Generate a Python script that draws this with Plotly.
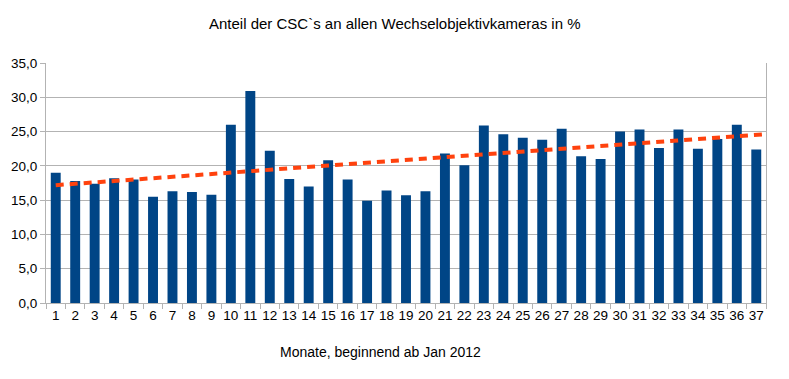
import numpy as np
import plotly.graph_objects as go

months = list(range(1, 38))
share = [19.0, 17.8, 17.4, 18.2, 18.0, 15.5, 16.3, 16.2, 15.8, 26.0,
         30.9, 22.2, 18.1, 17.0, 20.8, 18.0, 14.9, 16.4, 15.7, 16.3,
         21.8, 20.1, 25.9, 24.6, 24.1, 23.8, 25.4, 21.4, 21.0, 25.0,
         25.3, 22.6, 25.3, 22.5, 23.9, 26.0, 22.4]
title = "Anteil der CSC`s an allen Wechselobjektivkameras in %"
xlabel = "Monate, beginnend ab Jan 2012"

# linear trend line (least squares)
slope, intercept = np.polyfit(months, share, 1)
trend_x = [months[0], months[-1] + 0.5]
trend_y = [slope * x + intercept for x in trend_x]

FONT = "Liberation Sans, Arial, sans-serif"
GRID = "#b3b3b3"

fig = go.Figure()
fig.add_trace(go.Bar(x=months, y=share, marker=dict(color="#004586", line=dict(width=0)),
                     showlegend=False))
fig.add_trace(go.Scatter(x=trend_x, y=trend_y, mode="lines",
                         line=dict(color="#ff420e", width=4, dash="8px,6px"),
                         showlegend=False))

# page body has an 8px margin; compensate so the plot area sits at x 46..766, y 63..303
fig.update_layout(
    width=789, height=379,
    margin=dict(l=38, r=31, t=55, b=84, autoexpand=False),
    paper_bgcolor="white", plot_bgcolor="white",
    bargap=0.49,
    separators=",.",
    font=dict(family=FONT, size=13, color="black"),
    annotations=[
        dict(text=title, xref="paper", yref="paper", x=(395 - 46) / 720, y=1 + (63 - 24) / 240,
             xanchor="center", yanchor="middle", showarrow=False,
             font=dict(family=FONT, size=15, color="black")),
        dict(text=xlabel, xref="paper", yref="paper", x=(380 - 46) / 720, y=-(352 - 303) / 240,
             xanchor="center", yanchor="middle", showarrow=False,
             font=dict(family=FONT, size=14, color="black")),
    ],
)
fig.update_xaxes(
    range=[0.5, 37.5], tickmode="array", tickvals=months, ticktext=[str(m) for m in months],
    ticks="", showgrid=False, showline=True, linecolor=GRID, linewidth=1, mirror=False,
    tickfont=dict(family=FONT, size=13.5, color="black"), zeroline=False, automargin=False,
    minor=dict(tickmode="array", tickvals=[m - 0.5 for m in months] + [37.5],
               ticks="outside", ticklen=5, tickcolor=GRID, showgrid=False),
)
fig.update_yaxes(
    range=[0, 35], dtick=5, tickformat=".1f", showgrid=True, gridcolor=GRID, gridwidth=1,
    showline=True, linecolor=GRID, linewidth=1, mirror=True,
    ticks="outside", ticklen=5, tickcolor=GRID, automargin=False,
    tickfont=dict(family=FONT, size=13.5, color="black"), zeroline=False,
)

fig.write_html("out.html")
